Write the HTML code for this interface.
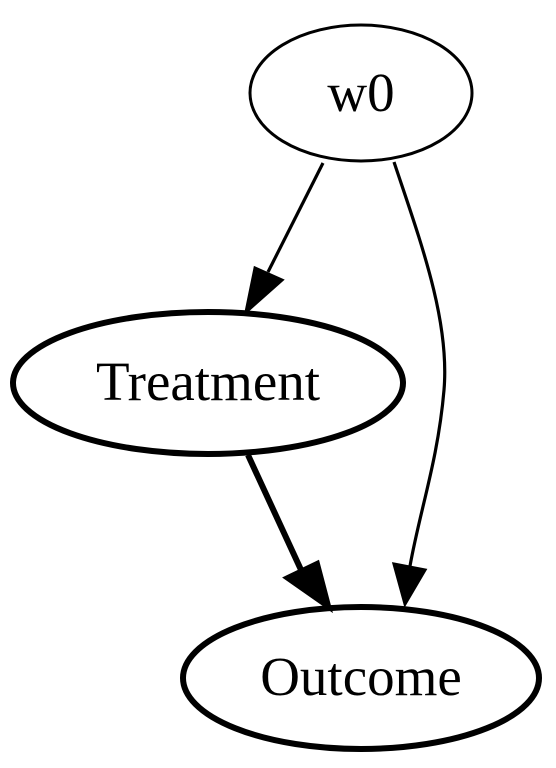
<!DOCTYPE html>
<html><head><meta charset="utf-8"><style>html,body{margin:0;padding:0;background:#fff}svg{display:block}</style></head>
<body>
<svg width="556" height="768" viewBox="0 0 556 768" xmlns="http://www.w3.org/2000/svg">
<rect width="556" height="768" fill="#fff"/>
<g fill="none" stroke="#000">
<ellipse cx="361" cy="93" rx="111" ry="68" stroke-width="3"/>
<ellipse cx="208" cy="383" rx="195" ry="71" stroke-width="6"/>
<ellipse cx="361" cy="678" rx="178" ry="71" stroke-width="6"/>
<path d="M323,163 L268,272" stroke-width="3.2"/>
<path d="M394,162 C420,240 450,320 444,390 C438,460 420,510 410,566" stroke-width="3.2"/>
<path d="M248,455 L302,572" stroke-width="6"/>
</g>
<g fill="#000" stroke="#000">
<polygon points="255,268 282,280 246,312" stroke-width="3"/>
<polygon points="394,564 425,570 405,604" stroke-width="3"/>
<polygon points="288,578 317,564 328,606" stroke-width="6"/>
</g>
<g font-family="Liberation Serif, serif" font-size="55" text-anchor="middle" fill="#000">
<text x="361" y="111">w0</text>
<text x="208" y="400">Treatment</text>
<text x="361" y="695">Outcome</text>
</g>
</svg>
</body></html>
